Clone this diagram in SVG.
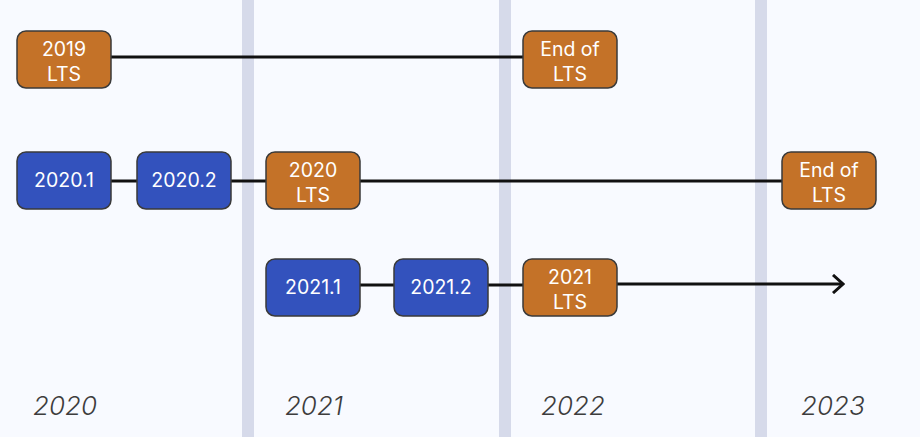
<svg xmlns="http://www.w3.org/2000/svg" width="920" height="437" viewBox="0 0 920 437">
<style>
.bg{fill:#f8faff}
.stripe{fill:#d6daea}
.lts rect{fill:#c47228;stroke:#3a3a3a;stroke-width:1.5}
.rel rect{fill:#3352bd;stroke:#3a3a3a;stroke-width:1.5}
.node text{fill:#ffffff;font-family:Inter,"Noto Sans",sans-serif;font-size:19.5px;text-anchor:middle}
.edge{stroke:#111;stroke-width:3;fill:none}
.year{fill:#3d3d3d;font-family:Inter,"Noto Sans",sans-serif;font-style:italic;font-weight:300;font-size:26px;text-anchor:middle}
</style>
<defs>
<marker id="arr" markerWidth="14" markerHeight="20" refX="12" refY="10" orient="auto" markerUnits="userSpaceOnUse">
<path d="M2,1 L12,10 L2,19" fill="none" stroke="#111" stroke-width="3"/>
</marker>
</defs>
<rect class="bg" x="0" y="0" width="920" height="437"/>
<rect class="stripe" x="242" y="0" width="12" height="437"/>
<rect class="stripe" x="499" y="0" width="12" height="437"/>
<rect class="stripe" x="755" y="0" width="12" height="437"/>
<g id="connectors">
<line class="edge" x1="111" y1="57" x2="523" y2="57"/>
<line class="edge" x1="111" y1="181" x2="137" y2="181"/>
<line class="edge" x1="231" y1="181" x2="266" y2="181"/>
<line class="edge" x1="360" y1="181" x2="782" y2="181"/>
<line class="edge" x1="360" y1="285" x2="394" y2="285"/>
<line class="edge" x1="488" y1="285" x2="523" y2="285"/>
<line class="edge" x1="617" y1="284" x2="843" y2="284" marker-end="url(#arr)"/>
</g>
<g id="n2019lts" class="node lts"><rect x="17" y="31" width="94" height="57" rx="9"/><text x="64" y="56">2019</text><text x="64" y="81">LTS</text></g>
<g id="endlts1" class="node lts"><rect x="523" y="31" width="94" height="57" rx="9"/><text x="570" y="56">End of</text><text x="570" y="81">LTS</text></g>
<g id="n20201" class="node rel"><rect x="17" y="152" width="94" height="57" rx="9"/><text x="64" y="187">2020.1</text></g>
<g id="n20202" class="node rel"><rect x="137" y="152" width="94" height="57" rx="9"/><text x="184" y="187">2020.2</text></g>
<g id="n2020lts" class="node lts"><rect x="266" y="152" width="94" height="57" rx="9"/><text x="313" y="177">2020</text><text x="313" y="202">LTS</text></g>
<g id="endlts2" class="node lts"><rect x="782" y="152" width="94" height="57" rx="9"/><text x="829" y="177">End of</text><text x="829" y="202">LTS</text></g>
<g id="n20211" class="node rel"><rect x="266" y="259" width="94" height="57" rx="9"/><text x="313" y="294">2021.1</text></g>
<g id="n20212" class="node rel"><rect x="394" y="259" width="94" height="57" rx="9"/><text x="441" y="294">2021.2</text></g>
<g id="n2021lts" class="node lts"><rect x="523" y="259" width="94" height="57" rx="9"/><text x="570" y="284">2021</text><text x="570" y="309">LTS</text></g>
<g id="years">
<text class="year" x="65" y="415">2020</text>
<text class="year" x="314" y="415">2021</text>
<text class="year" x="573" y="415">2022</text>
<text class="year" x="833" y="415">2023</text>
</g>
</svg>
